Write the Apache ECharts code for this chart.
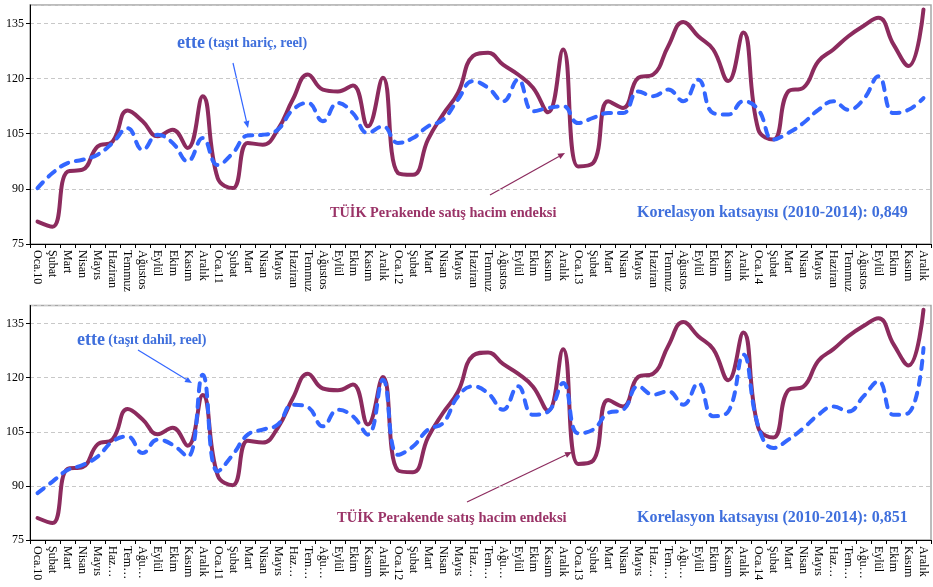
<!DOCTYPE html>
<html>
<head>
<meta charset="utf-8">
<script src="https://cdn.jsdelivr.net/npm/echarts@6/dist/echarts.min.js"></script>
<style>
  html, body { margin: 0; padding: 0; background: #fff; }
  #chart { width: 933px; height: 587px; }
</style>
</head>
<body>
<div id="chart"></div>
<script>
// ay isimleri (ust panel tam, alt panel kisaltilmis)
let monthsTop = ['Oca', 'Şubat', 'Mart', 'Nisan', 'Mayıs', 'Haziran', 'Temmuz', 'Ağustos', 'Eylül', 'Ekim', 'Kasım', 'Aralık']
let monthsBottom = ['Oca', 'Şubat', 'Mart', 'Nisan', 'Mayıs', 'Haz…', 'Tem…', 'Ağu…', 'Eylül', 'Ekim', 'Kasım', 'Aralık']
let years = ['10', '11', '12', '13', '14']

// TÜİK perakende satis hacim endeksi (2010-2014)
let tuik = [
  81.1, 79.7, 94.7, 95.2, 101.5, 102.9, 111.3, 108.4, 104.3, 106.1, 101.1, 115.2,
  92.9, 90.2, 102.5, 102.0, 106.1, 114.3, 121.1, 117.0, 116.5, 118.1, 107.0, 120.2,
  94.3, 93.8, 103.4, 110.2, 116.1, 126.1, 127.0, 123.8, 121.1, 117.5, 110.8, 127.9,
  96.1, 97.0, 113.8, 112.0, 120.2, 121.1, 128.8, 135.4, 131.5, 127.9, 119.3, 132.5,
  106.1, 103.4, 116.5, 117.5, 124.7, 127.9, 131.5, 134.3, 136.5, 129.3, 123.4, 138.8
]
// ette (tasit haric, reel)
let etteHaric = [
  90.2, 94.3, 97.0, 97.9, 99.3, 102.5, 106.5, 100.6, 104.7, 102.5, 97.5, 103.8,
  96.5, 99.7, 104.5, 104.7, 106.1, 111.5, 113.4, 108.4, 113.4, 110.6, 105.2, 107.0,
  102.5, 103.8, 107.0, 108.8, 114.3, 119.3, 117.5, 113.8, 119.7, 111.1, 112.0, 112.5,
  107.9, 109.3, 110.6, 110.6, 116.5, 115.2, 117.0, 113.8, 119.7, 110.6, 110.2, 113.8,
  111.5, 103.4, 105.2, 107.9, 111.5, 113.8, 111.5, 114.3, 120.6, 110.6, 111.5, 114.7
]
// ette (tasit dahil, reel)
let etteDahil = [
  88.0, 91.2, 94.4, 95.8, 98.1, 102.3, 103.7, 99.1, 102.8, 101.4, 98.1, 120.8,
  94.0, 98.6, 104.2, 105.6, 107.0, 112.5, 111.8, 106.5, 111.1, 109.3, 104.2, 119.4,
  98.6, 100.9, 105.6, 107.4, 114.8, 117.6, 115.7, 111.1, 117.6, 109.7, 110.6, 118.5,
  104.6, 105.6, 110.2, 111.1, 117.6, 115.3, 116.2, 112.5, 118.5, 109.3, 110.6, 126.4,
  106.5, 100.5, 102.8, 106.0, 109.7, 112.0, 110.6, 114.8, 119.0, 109.7, 110.2, 128.2
]
let yTicks = [75, 90, 105, 120, 135]

function buildLabels (months) {
  let out = []
  years.forEach(function (y) {
    months.forEach(function (m, i) {
      out.push(i === 0 ? m + '.' + y : m)
    })
  })
  return out
}
let catTop = buildLabels(monthsTop)
let catBottom = buildLabels(monthsBottom)

let purple = '#8c2b5e'
let purpleText = '#9a3367'
let blue = '#3366ff'
let blueText = '#3f6fdc'
let serif = '"Liberation Serif", "Times New Roman", serif'

function arrow (x1, y1, x2, y2, color) {
  let a = Math.atan2(y2 - y1, x2 - x1)
  let len = 7
  let w = 3
  let bx = x2 - len * Math.cos(a)
  let by = y2 - len * Math.sin(a)
  return {
    type: 'group',
    children: [
      {type: 'line', shape: {x1: x1, y1: y1, x2: bx, y2: by}, style: {stroke: color, lineWidth: 1.2}},
      {type: 'polygon',
        shape: {points: [[x2, y2], [bx + w * Math.sin(a), by - w * Math.cos(a)], [bx - w * Math.sin(a), by + w * Math.cos(a)]]},
        style: {fill: color}}
    ]
  }
}

function xAxisFor (gridIndex, cats) {
  return {
    type: 'category',
    gridIndex: gridIndex,
    data: cats,
    boundaryGap: true,
    axisLine: {lineStyle: {color: '#000', width: 1}},
    axisTick: {show: true, interval: 0, length: 4, lineStyle: {color: '#000'}},
    axisLabel: {interval: 0, rotate: -90, margin: 6, fontFamily: serif, fontSize: 12, color: '#000'},
    splitLine: {show: false}
  }
}

function yAxisFor (gridIndex) {
  return {
    type: 'value',
    gridIndex: gridIndex,
    min: yTicks[0],
    max: 140,
    interval: 15,
    axisLine: {show: true, lineStyle: {color: '#000', width: 1}},
    axisTick: {show: true, length: 4, lineStyle: {color: '#000'}},
    axisLabel: {showMaxLabel: false, margin: 6, fontFamily: serif, fontSize: 12, color: '#000'},
    splitLine: {show: true, lineStyle: {color: '#c8c8c8', type: [4, 3], width: 1}}
  }
}

function lineSeries (name, data, idx, color, dashed) {
  return {
    name: name,
    type: 'line',
    xAxisIndex: idx,
    yAxisIndex: idx,
    data: data,
    smooth: 0.45,
    symbol: 'none',
    z: dashed ? 3 : 2,
    lineStyle: dashed
      ? {color: color, width: 4, type: [8, 8], cap: 'round'}
      : {color: color, width: 4, cap: 'round', join: 'round'}
  }
}

let myChart = echarts.init(document.getElementById('chart'), null, {renderer: 'canvas'})

let option = {
  animation: false,
  backgroundColor: '#fff',
  grid: [
    {left: 30, right: 2, top: 5, bottom: 343, show: true, borderColor: '#a6a6a6', borderWidth: 1.5, containLabel: false},
    {left: 30, right: 2, top: 305.5, bottom: 47, show: true, borderColor: '#a6a6a6', borderWidth: 1.5, containLabel: false}
  ],
  xAxis: [xAxisFor(0, catTop), xAxisFor(1, catBottom)],
  yAxis: [yAxisFor(0), yAxisFor(1)],
  series: [
    lineSeries('TÜİK Perakende satış hacim endeksi', tuik, 0, purple, false),
    lineSeries('ette (taşıt hariç, reel)', etteHaric, 0, blue, true),
    lineSeries('TÜİK Perakende satış hacim endeksi', tuik, 1, purple, false),
    lineSeries('ette (taşıt dahil, reel)', etteDahil, 1, blue, true)
  ],
  graphic: [
    {type: 'text', x: 177, y: 43, z: 10,
      style: {text: '{a|ette} {b|(taşıt hariç, reel)}', verticalAlign: 'middle',
        rich: {a: {fontFamily: serif, fontWeight: 'bold', fontSize: 18, fill: blueText},
          b: {fontFamily: serif, fontWeight: 'bold', fontSize: 14, fill: blueText}}}},
    arrow(233, 63, 248, 128, blue),
    {type: 'text', x: 330, y: 213, z: 10,
      style: {text: 'TÜİK Perakende satış hacim endeksi', verticalAlign: 'middle',
        font: 'bold 14.3px ' + serif, fill: purpleText}},
    arrow(490, 195, 565, 153, purple),
    {type: 'text', x: 637, y: 213, z: 10,
      style: {text: 'Korelasyon katsayısı (2010-2014): 0,849', verticalAlign: 'middle',
        font: 'bold 16px ' + serif, fill: blueText}},

    {type: 'text', x: 77, y: 340, z: 10,
      style: {text: '{a|ette} {b|(taşıt dahil, reel)}', verticalAlign: 'middle',
        rich: {a: {fontFamily: serif, fontWeight: 'bold', fontSize: 18, fill: blueText},
          b: {fontFamily: serif, fontWeight: 'bold', fontSize: 14, fill: blueText}}}},
    arrow(138, 350, 192, 383, blue),
    {type: 'text', x: 337, y: 518, z: 10,
      style: {text: 'TÜİK Perakende satış hacim endeksi', verticalAlign: 'middle',
        font: 'bold 14.5px ' + serif, fill: purpleText}},
    arrow(467, 502, 572, 452, purple),
    {type: 'text', x: 637, y: 518, z: 10,
      style: {text: 'Korelasyon katsayısı (2010-2014): 0,851', verticalAlign: 'middle',
        font: 'bold 16px ' + serif, fill: blueText}}
  ]
}
myChart.setOption(option, true)
</script>
</body>
</html>
